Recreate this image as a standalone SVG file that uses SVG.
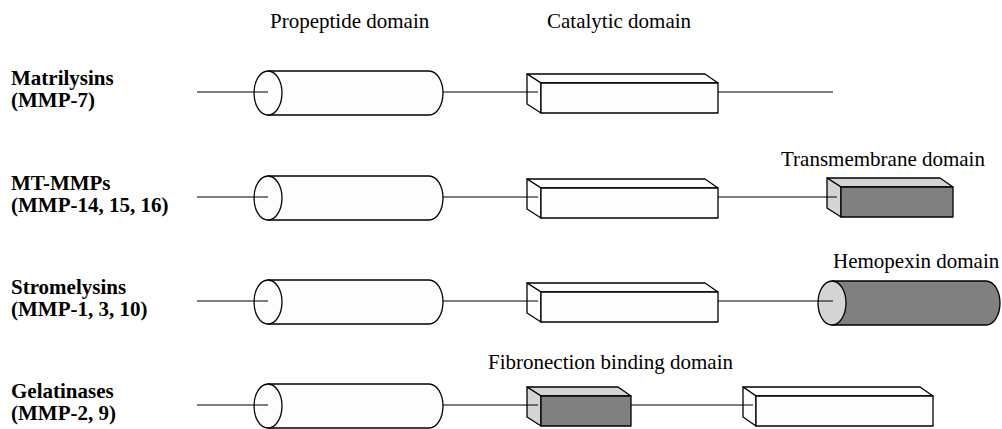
<svg xmlns="http://www.w3.org/2000/svg" width="1002" height="429" viewBox="0 0 1002 429">
<style>
.lbl{font-family:"Liberation Serif","Times New Roman",serif;font-size:21px;fill:#000}
.name{font-family:"Liberation Serif","Times New Roman",serif;font-size:21px;font-weight:bold;fill:#000}
.sh{stroke:#000;stroke-width:1.3;stroke-linejoin:round}
.w{fill:#fdfdfd}
.lt{fill:#d4d4d4}
.dk{fill:#808080}
.ln{stroke:#000;stroke-width:1.2;fill:none}
</style>
<defs>
<g id="propep">
<path class="sh w" d="M268,-21 H429 A14,22 0 0 1 429,23 H268 Z"/>
<ellipse class="sh w" cx="268" cy="1" rx="14" ry="22"/>
</g>
<g id="catal">
<path class="sh w" d="M527,-18 H705 L718,-9 H541 Z"/>
<path class="sh w" d="M527,-18 L541,-9 V21 L527,12 Z"/>
<rect class="sh w" x="541" y="-9" width="177" height="30"/>
</g>
</defs>
<g id="headers">
<text class="lbl" x="270" y="28">Propeptide domain</text>
<text class="lbl" x="547" y="28">Catalytic domain</text>
</g>
<g id="row-matrilysins">
<text class="name" x="11" y="85">Matrilysins</text>
<text class="name" x="11" y="107">(MMP-7)</text>
<use href="#propep" y="92"/>
<use href="#catal" y="92"/>
</g>
<g id="row-mtmmps">
<text class="name" x="11" y="190">MT-MMPs</text>
<text class="name" x="11" y="212">(MMP-14, 15, 16)</text>
<use href="#propep" y="197"/>
<use href="#catal" y="197"/>
<g id="transmembrane">
<text class="lbl" x="781" y="166">Transmembrane domain</text>
<path class="sh lt" d="M827,178 H940 L953,187 H841 Z"/>
<path class="sh lt" d="M827,178 L841,187 V217 L827,208 Z"/>
<rect class="sh dk" x="841" y="187" width="112" height="30"/>
</g>
</g>
<g id="row-stromelysins">
<text class="name" x="11" y="294">Stromelysins</text>
<text class="name" x="11" y="316">(MMP-1, 3, 10)</text>
<use href="#propep" y="301"/>
<use href="#catal" y="301"/>
<g id="hemopexin">
<text class="lbl" x="833" y="268">Hemopexin domain</text>
<path class="sh dk" d="M832,281 H986 A14,22 0 0 1 986,325 H832 Z"/>
<ellipse class="sh lt" cx="832" cy="303" rx="14" ry="22"/>
</g>
</g>
<g id="row-gelatinases">
<text class="name" x="11" y="398">Gelatinases</text>
<text class="name" x="11" y="420">(MMP-2, 9)</text>
<use href="#propep" y="405"/>
<g id="fibronectin">
<text class="lbl" x="488" y="369">Fibronection binding domain</text>
<path class="sh lt" d="M527,387 H618 L631,396 H541 Z"/>
<path class="sh lt" d="M527,387 L541,396 V426 L527,417 Z"/>
<rect class="sh dk" x="541" y="396" width="90" height="30"/>
</g>
<g id="catalytic-gel">
<path class="sh w" d="M743,387 H920 L933,396 H756 Z"/>
<path class="sh w" d="M743,387 L756,396 V426 L743,417 Z"/>
<rect class="sh w" x="756" y="396" width="177" height="30"/>
</g>
</g>
<g id="connectors">
<path class="ln" d="M197,92 H268 M443,92 H538 M718,92 H833"/>
<path class="ln" d="M197,197 H268 M443,197 H538 M718,197 H837"/>
<path class="ln" d="M197,301 H268 M443,301 H538 M718,301 H833"/>
<path class="ln" d="M197,405 H268 M443,405 H538 M631,405 H753"/>
</g>
</svg>
